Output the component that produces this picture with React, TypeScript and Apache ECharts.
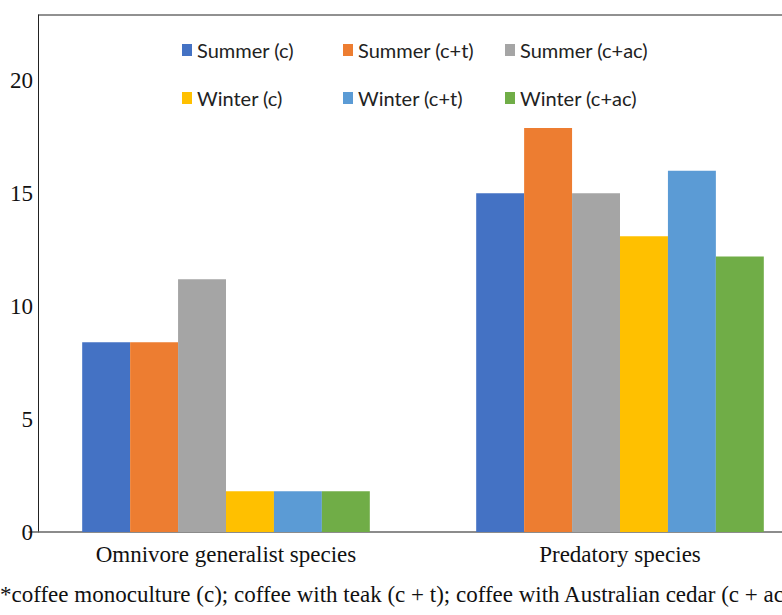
import React, { useEffect, useRef } from "react";
import * as echarts from "echarts";

const categories = ["Omnivore generalist species", "Predatory species"];
const seriesNames = ["Summer (c)", "Summer (c+t)", "Summer (c+ac)", "Winter (c)", "Winter (c+t)", "Winter (c+ac)"];
const summerC = [8.4, 15.0];
const summerCT = [8.4, 17.9];
const summerCAC = [11.2, 15.0];
const winterC = [1.8, 13.1];
const winterCT = [1.8, 16.0];
const winterCAC = [1.8, 12.2];
const yTicks = [0, 5, 10, 15, 20];
const footnote = "*coffee monoculture (c); coffee with teak (c + t); coffee with Australian cedar (c + ac)";

const colors = ["#4472C4", "#ED7D31", "#A5A5A5", "#FFC000", "#5B9BD5", "#70AD47"];
const allData = [summerC, summerCT, summerCAC, winterC, winterCT, winterCAC];
const SERIF = "'Liberation Serif', 'Times New Roman', 'DejaVu Serif', serif";

export default function App() {
  const ref = useRef<HTMLDivElement>(null);
  useEffect(() => {
    if (!ref.current) return;
    const chart = echarts.init(ref.current, undefined, { renderer: "svg" });
    const legendPos = [
      { left: 182, top: 40 },
      { left: 343, top: 40 },
      { left: 505, top: 40 },
      { left: 182, top: 88 },
      { left: 343, top: 88 },
      { left: 505, top: 88 },
    ];
    chart.setOption({
      animation: false,
      color: colors,
      legend: seriesNames.map((n, i) => ({
        data: [n],
        left: legendPos[i].left,
        top: legendPos[i].top,
        icon: "rect",
        itemWidth: 10,
        itemHeight: 12,
        itemGap: 0,
        padding: 0,
        textStyle: { fontFamily: "Lato", fontSize: 20, color: "#222", padding: [0, 0, 0, 0] },
      })),
      grid: { left: 29, top: 15, width: 788, bottom: 83 },
      xAxis: {
        type: "category",
        data: categories,
        axisTick: { show: false },
        axisLine: { lineStyle: { color: "#666", width: 1.5 } },
        axisLabel: { fontFamily: SERIF, fontSize: 23, color: "#111", margin: 11 },
      },
      yAxis: {
        type: "value",
        min: 0,
        max: 22.9,
        interval: 5,
        offset: -9,
        splitLine: { show: false },
        axisTick: { show: false },
        axisLine: { show: true, lineStyle: { color: "#222", width: 1 } },
        axisLabel: {
          fontFamily: SERIF,
          fontSize: 23,
          color: "#111",
          margin: 5,
          formatter: (v: number) => (yTicks.includes(v) ? String(v) : ""),
        },
      },
      series: seriesNames.map((n, i) => ({
        name: n,
        type: "bar",
        data: allData[i],
        barGap: "0%",
        barCategoryGap: "27%",
      })),
      graphic: [
        { type: "line", shape: { x1: 38, y1: 15, x2: 840, y2: 15 }, style: { stroke: "#222", lineWidth: 1 } },
        {
          type: "text",
          left: 0,
          top: 583,
          style: { text: footnote, fontFamily: SERIF, fontSize: 23, fill: "#111" },
        },
      ],
    });
    return () => chart.dispose();
  }, []);
  return (
    <div style={{ position: "absolute", left: 0, top: 0, width: 782, height: 615, overflow: "hidden", background: "#fff" }}>
      <div ref={ref} style={{ width: 840, height: 615 }} />
    </div>
  );
}
